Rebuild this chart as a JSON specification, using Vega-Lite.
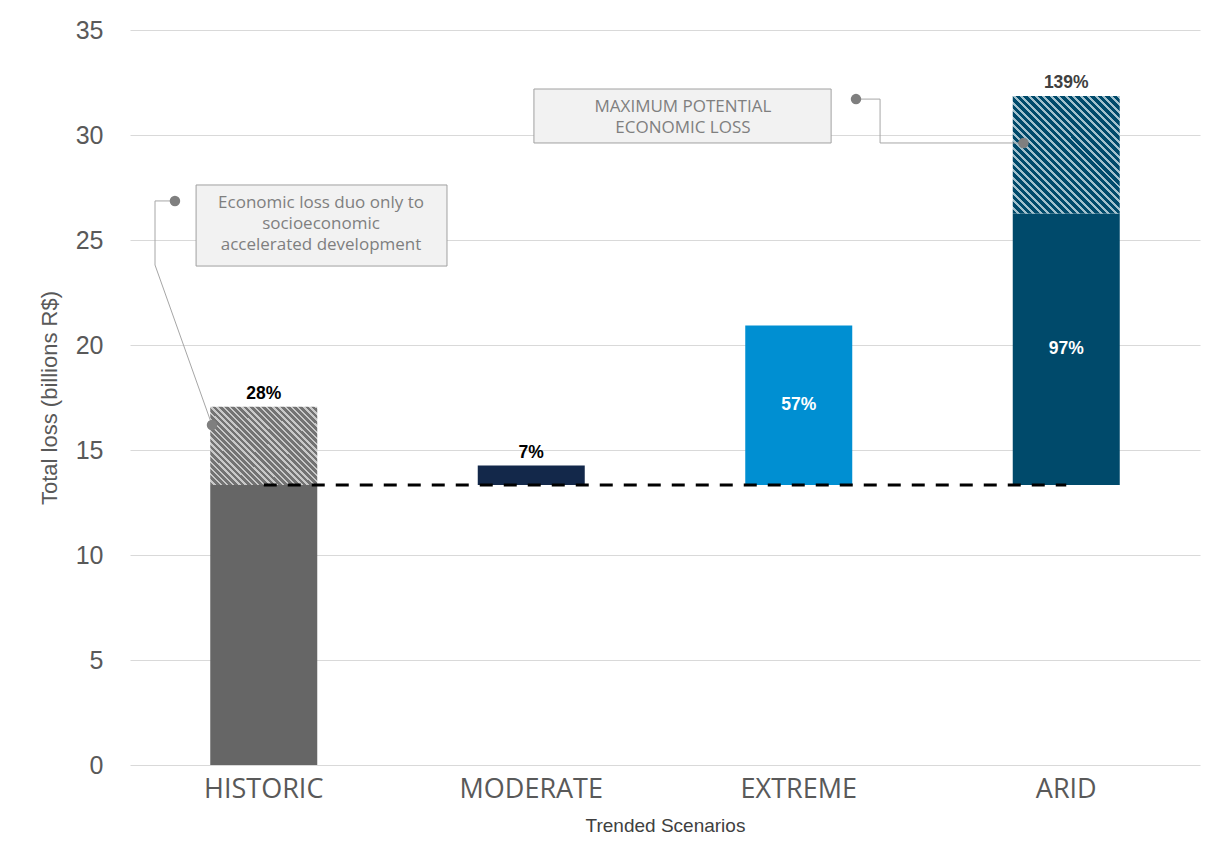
{
  "$schema": "https://vega.github.io/schema/vega-lite/v6.json",
  "autosize": {"type": "none"},
  "padding": {"left": 130, "top": 30, "right": 29, "bottom": 93},
  "width": 1070,
  "height": 735,
  "background": "#ffffff",
  "config": {"view": {"stroke": null}, "font": "Liberation Sans"},
  "datasets": {
    "loss": [
      {"scenario": "HISTORIC", "part": "base", "lo": 0, "hi": 13.33, "label": ""},
      {"scenario": "HISTORIC", "part": "hatch", "lo": 13.33, "hi": 17.06, "label": "28%"},
      {"scenario": "MODERATE", "part": "solid", "lo": 13.33, "hi": 14.26, "label": "7%"},
      {"scenario": "EXTREME", "part": "solid", "lo": 13.33, "hi": 20.93, "label": "57%"},
      {"scenario": "ARID", "part": "solid", "lo": 13.33, "hi": 26.26, "label": "97%"},
      {"scenario": "ARID", "part": "hatch", "lo": 26.26, "hi": 31.86, "label": "139%"}
    ],
    "notes": [
      {"x1": 0.247, "x2": 1.185, "y1": 23.76, "y2": 27.62, "xc": 0.714, "yc": 26.76, "note": "Economic loss duo only to\nsocioeconomic\naccelerated development"},
      {"x1": 1.51, "x2": 2.621, "y1": 29.62, "y2": 32.19, "xc": 2.067, "yc": 31.33, "note": "MAXIMUM POTENTIAL\nECONOMIC LOSS"}
    ],
    "leaders": [
      {"id": "a", "step": 0, "x": 0.168, "y": 26.86},
      {"id": "a", "step": 1, "x": 0.0935, "y": 26.86},
      {"id": "a", "step": 2, "x": 0.0935, "y": 23.81},
      {"id": "a", "step": 3, "x": 0.3065, "y": 16.19},
      {"id": "b", "step": 0, "x": 2.714, "y": 31.71},
      {"id": "b", "step": 1, "x": 2.804, "y": 31.71},
      {"id": "b", "step": 2, "x": 2.804, "y": 29.62},
      {"id": "b", "step": 3, "x": 3.34, "y": 29.62}
    ]
  },
  "layer": [
    {
      "data": {"name": "loss"},
      "encoding": {
        "x": {
          "field": "scenario",
          "type": "nominal",
          "sort": ["HISTORIC", "MODERATE", "EXTREME", "ARID"],
          "scale": {"domain": ["HISTORIC", "MODERATE", "EXTREME", "ARID"], "paddingInner": 0.6, "paddingOuter": 0.3},
          "title": "Trended Scenarios",
          "axis": {
            "domain": false,
            "ticks": false,
            "grid": false,
            "labelAngle": 0,
            "labelFont": "Open Sans",
            "labelFontSize": 27,
            "labelColor": "#595959",
            "labelPadding": 11,
            "titleFont": "Liberation Sans",
            "titleFontSize": 19,
            "titleFontWeight": "normal",
            "titleColor": "#404040",
            "titlePadding": 14
          }
        },
        "y": {
          "field": "lo",
          "type": "quantitative",
          "scale": {"domain": [0, 35], "nice": false, "zero": true},
          "title": "Total loss (billions R$)",
          "axis": {
            "values": [0, 5, 10, 15, 20, 25, 30, 35],
            "domain": false,
            "ticks": false,
            "grid": true,
            "gridColor": "#d9d9d9",
            "gridWidth": 1,
            "labelFont": "Liberation Sans",
            "labelFontSize": 25,
            "labelColor": "#595959",
            "labelPadding": 27,
            "titleFont": "Liberation Sans",
            "titleFontSize": 22,
            "titleFontWeight": "normal",
            "titleColor": "#595959",
            "titlePadding": 14
          }
        }
      },
      "layer": [
        {
          "transform": [{"filter": "datum.part !== 'hatch'"}],
          "mark": {"type": "bar"},
          "encoding": {
            "y2": {"field": "hi"},
            "color": {
              "field": "scenario",
              "type": "nominal",
              "scale": {"domain": ["HISTORIC", "MODERATE", "EXTREME", "ARID"], "range": ["#666666", "#13284a", "#008fd2", "#004a6b"]},
              "legend": null
            }
          }
        },
        {
          "transform": [{"filter": "datum.part === 'hatch' && datum.scenario === 'HISTORIC'"}],
          "mark": {
            "type": "bar",
            "fill": {
              "gradient": "linear",
              "x1": 0, "y1": 1, "x2": 1.125, "y2": 0.17,
              "stops": [
                {"offset": 0, "color": "#737373"}, {"offset": 0.02, "color": "#737373"}, {"offset": 0.02, "color": "#c9c9c9"}, {"offset": 0.0333, "color": "#c9c9c9"},
                {"offset": 0.0333, "color": "#737373"}, {"offset": 0.0533, "color": "#737373"}, {"offset": 0.0533, "color": "#c9c9c9"}, {"offset": 0.0667, "color": "#c9c9c9"},
                {"offset": 0.0667, "color": "#737373"}, {"offset": 0.0867, "color": "#737373"}, {"offset": 0.0867, "color": "#c9c9c9"}, {"offset": 0.1, "color": "#c9c9c9"},
                {"offset": 0.1, "color": "#737373"}, {"offset": 0.12, "color": "#737373"}, {"offset": 0.12, "color": "#c9c9c9"}, {"offset": 0.1333, "color": "#c9c9c9"},
                {"offset": 0.1333, "color": "#737373"}, {"offset": 0.1533, "color": "#737373"}, {"offset": 0.1533, "color": "#c9c9c9"}, {"offset": 0.1667, "color": "#c9c9c9"},
                {"offset": 0.1667, "color": "#737373"}, {"offset": 0.1867, "color": "#737373"}, {"offset": 0.1867, "color": "#c9c9c9"}, {"offset": 0.2, "color": "#c9c9c9"},
                {"offset": 0.2, "color": "#737373"}, {"offset": 0.22, "color": "#737373"}, {"offset": 0.22, "color": "#c9c9c9"}, {"offset": 0.2333, "color": "#c9c9c9"},
                {"offset": 0.2333, "color": "#737373"}, {"offset": 0.2533, "color": "#737373"}, {"offset": 0.2533, "color": "#c9c9c9"}, {"offset": 0.2667, "color": "#c9c9c9"},
                {"offset": 0.2667, "color": "#737373"}, {"offset": 0.2867, "color": "#737373"}, {"offset": 0.2867, "color": "#c9c9c9"}, {"offset": 0.3, "color": "#c9c9c9"},
                {"offset": 0.3, "color": "#737373"}, {"offset": 0.32, "color": "#737373"}, {"offset": 0.32, "color": "#c9c9c9"}, {"offset": 0.3333, "color": "#c9c9c9"},
                {"offset": 0.3333, "color": "#737373"}, {"offset": 0.3533, "color": "#737373"}, {"offset": 0.3533, "color": "#c9c9c9"}, {"offset": 0.3667, "color": "#c9c9c9"},
                {"offset": 0.3667, "color": "#737373"}, {"offset": 0.3867, "color": "#737373"}, {"offset": 0.3867, "color": "#c9c9c9"}, {"offset": 0.4, "color": "#c9c9c9"},
                {"offset": 0.4, "color": "#737373"}, {"offset": 0.42, "color": "#737373"}, {"offset": 0.42, "color": "#c9c9c9"}, {"offset": 0.4333, "color": "#c9c9c9"},
                {"offset": 0.4333, "color": "#737373"}, {"offset": 0.4533, "color": "#737373"}, {"offset": 0.4533, "color": "#c9c9c9"}, {"offset": 0.4667, "color": "#c9c9c9"},
                {"offset": 0.4667, "color": "#737373"}, {"offset": 0.4867, "color": "#737373"}, {"offset": 0.4867, "color": "#c9c9c9"}, {"offset": 0.5, "color": "#c9c9c9"},
                {"offset": 0.5, "color": "#737373"}, {"offset": 0.52, "color": "#737373"}, {"offset": 0.52, "color": "#c9c9c9"}, {"offset": 0.5333, "color": "#c9c9c9"},
                {"offset": 0.5333, "color": "#737373"}, {"offset": 0.5533, "color": "#737373"}, {"offset": 0.5533, "color": "#c9c9c9"}, {"offset": 0.5667, "color": "#c9c9c9"},
                {"offset": 0.5667, "color": "#737373"}, {"offset": 0.5867, "color": "#737373"}, {"offset": 0.5867, "color": "#c9c9c9"}, {"offset": 0.6, "color": "#c9c9c9"},
                {"offset": 0.6, "color": "#737373"}, {"offset": 0.62, "color": "#737373"}, {"offset": 0.62, "color": "#c9c9c9"}, {"offset": 0.6333, "color": "#c9c9c9"},
                {"offset": 0.6333, "color": "#737373"}, {"offset": 0.6533, "color": "#737373"}, {"offset": 0.6533, "color": "#c9c9c9"}, {"offset": 0.6667, "color": "#c9c9c9"},
                {"offset": 0.6667, "color": "#737373"}, {"offset": 0.6867, "color": "#737373"}, {"offset": 0.6867, "color": "#c9c9c9"}, {"offset": 0.7, "color": "#c9c9c9"},
                {"offset": 0.7, "color": "#737373"}, {"offset": 0.72, "color": "#737373"}, {"offset": 0.72, "color": "#c9c9c9"}, {"offset": 0.7333, "color": "#c9c9c9"},
                {"offset": 0.7333, "color": "#737373"}, {"offset": 0.7533, "color": "#737373"}, {"offset": 0.7533, "color": "#c9c9c9"}, {"offset": 0.7667, "color": "#c9c9c9"},
                {"offset": 0.7667, "color": "#737373"}, {"offset": 0.7867, "color": "#737373"}, {"offset": 0.7867, "color": "#c9c9c9"}, {"offset": 0.8, "color": "#c9c9c9"},
                {"offset": 0.8, "color": "#737373"}, {"offset": 0.82, "color": "#737373"}, {"offset": 0.82, "color": "#c9c9c9"}, {"offset": 0.8333, "color": "#c9c9c9"},
                {"offset": 0.8333, "color": "#737373"}, {"offset": 0.8533, "color": "#737373"}, {"offset": 0.8533, "color": "#c9c9c9"}, {"offset": 0.8667, "color": "#c9c9c9"},
                {"offset": 0.8667, "color": "#737373"}, {"offset": 0.8867, "color": "#737373"}, {"offset": 0.8867, "color": "#c9c9c9"}, {"offset": 0.9, "color": "#c9c9c9"},
                {"offset": 0.9, "color": "#737373"}, {"offset": 0.92, "color": "#737373"}, {"offset": 0.92, "color": "#c9c9c9"}, {"offset": 0.9333, "color": "#c9c9c9"},
                {"offset": 0.9333, "color": "#737373"}, {"offset": 0.9533, "color": "#737373"}, {"offset": 0.9533, "color": "#c9c9c9"}, {"offset": 0.9667, "color": "#c9c9c9"},
                {"offset": 0.9667, "color": "#737373"}, {"offset": 0.9867, "color": "#737373"}, {"offset": 0.9867, "color": "#c9c9c9"}, {"offset": 1, "color": "#c9c9c9"}
              ]
            }
          },
          "encoding": {"y2": {"field": "hi"}}
        },
        {
          "transform": [{"filter": "datum.part === 'hatch' && datum.scenario === 'ARID'"}],
          "mark": {
            "type": "bar",
            "fill": {
              "gradient": "linear",
              "x1": 0, "y1": 1, "x2": 0.951, "y2": -0.045,
              "stops": [
                {"offset": 0, "color": "#004a6b"}, {"offset": 0.02, "color": "#004a6b"}, {"offset": 0.02, "color": "#a3c1cd"}, {"offset": 0.0333, "color": "#a3c1cd"},
                {"offset": 0.0333, "color": "#004a6b"}, {"offset": 0.0533, "color": "#004a6b"}, {"offset": 0.0533, "color": "#a3c1cd"}, {"offset": 0.0667, "color": "#a3c1cd"},
                {"offset": 0.0667, "color": "#004a6b"}, {"offset": 0.0867, "color": "#004a6b"}, {"offset": 0.0867, "color": "#a3c1cd"}, {"offset": 0.1, "color": "#a3c1cd"},
                {"offset": 0.1, "color": "#004a6b"}, {"offset": 0.12, "color": "#004a6b"}, {"offset": 0.12, "color": "#a3c1cd"}, {"offset": 0.1333, "color": "#a3c1cd"},
                {"offset": 0.1333, "color": "#004a6b"}, {"offset": 0.1533, "color": "#004a6b"}, {"offset": 0.1533, "color": "#a3c1cd"}, {"offset": 0.1667, "color": "#a3c1cd"},
                {"offset": 0.1667, "color": "#004a6b"}, {"offset": 0.1867, "color": "#004a6b"}, {"offset": 0.1867, "color": "#a3c1cd"}, {"offset": 0.2, "color": "#a3c1cd"},
                {"offset": 0.2, "color": "#004a6b"}, {"offset": 0.22, "color": "#004a6b"}, {"offset": 0.22, "color": "#a3c1cd"}, {"offset": 0.2333, "color": "#a3c1cd"},
                {"offset": 0.2333, "color": "#004a6b"}, {"offset": 0.2533, "color": "#004a6b"}, {"offset": 0.2533, "color": "#a3c1cd"}, {"offset": 0.2667, "color": "#a3c1cd"},
                {"offset": 0.2667, "color": "#004a6b"}, {"offset": 0.2867, "color": "#004a6b"}, {"offset": 0.2867, "color": "#a3c1cd"}, {"offset": 0.3, "color": "#a3c1cd"},
                {"offset": 0.3, "color": "#004a6b"}, {"offset": 0.32, "color": "#004a6b"}, {"offset": 0.32, "color": "#a3c1cd"}, {"offset": 0.3333, "color": "#a3c1cd"},
                {"offset": 0.3333, "color": "#004a6b"}, {"offset": 0.3533, "color": "#004a6b"}, {"offset": 0.3533, "color": "#a3c1cd"}, {"offset": 0.3667, "color": "#a3c1cd"},
                {"offset": 0.3667, "color": "#004a6b"}, {"offset": 0.3867, "color": "#004a6b"}, {"offset": 0.3867, "color": "#a3c1cd"}, {"offset": 0.4, "color": "#a3c1cd"},
                {"offset": 0.4, "color": "#004a6b"}, {"offset": 0.42, "color": "#004a6b"}, {"offset": 0.42, "color": "#a3c1cd"}, {"offset": 0.4333, "color": "#a3c1cd"},
                {"offset": 0.4333, "color": "#004a6b"}, {"offset": 0.4533, "color": "#004a6b"}, {"offset": 0.4533, "color": "#a3c1cd"}, {"offset": 0.4667, "color": "#a3c1cd"},
                {"offset": 0.4667, "color": "#004a6b"}, {"offset": 0.4867, "color": "#004a6b"}, {"offset": 0.4867, "color": "#a3c1cd"}, {"offset": 0.5, "color": "#a3c1cd"},
                {"offset": 0.5, "color": "#004a6b"}, {"offset": 0.52, "color": "#004a6b"}, {"offset": 0.52, "color": "#a3c1cd"}, {"offset": 0.5333, "color": "#a3c1cd"},
                {"offset": 0.5333, "color": "#004a6b"}, {"offset": 0.5533, "color": "#004a6b"}, {"offset": 0.5533, "color": "#a3c1cd"}, {"offset": 0.5667, "color": "#a3c1cd"},
                {"offset": 0.5667, "color": "#004a6b"}, {"offset": 0.5867, "color": "#004a6b"}, {"offset": 0.5867, "color": "#a3c1cd"}, {"offset": 0.6, "color": "#a3c1cd"},
                {"offset": 0.6, "color": "#004a6b"}, {"offset": 0.62, "color": "#004a6b"}, {"offset": 0.62, "color": "#a3c1cd"}, {"offset": 0.6333, "color": "#a3c1cd"},
                {"offset": 0.6333, "color": "#004a6b"}, {"offset": 0.6533, "color": "#004a6b"}, {"offset": 0.6533, "color": "#a3c1cd"}, {"offset": 0.6667, "color": "#a3c1cd"},
                {"offset": 0.6667, "color": "#004a6b"}, {"offset": 0.6867, "color": "#004a6b"}, {"offset": 0.6867, "color": "#a3c1cd"}, {"offset": 0.7, "color": "#a3c1cd"},
                {"offset": 0.7, "color": "#004a6b"}, {"offset": 0.72, "color": "#004a6b"}, {"offset": 0.72, "color": "#a3c1cd"}, {"offset": 0.7333, "color": "#a3c1cd"},
                {"offset": 0.7333, "color": "#004a6b"}, {"offset": 0.7533, "color": "#004a6b"}, {"offset": 0.7533, "color": "#a3c1cd"}, {"offset": 0.7667, "color": "#a3c1cd"},
                {"offset": 0.7667, "color": "#004a6b"}, {"offset": 0.7867, "color": "#004a6b"}, {"offset": 0.7867, "color": "#a3c1cd"}, {"offset": 0.8, "color": "#a3c1cd"},
                {"offset": 0.8, "color": "#004a6b"}, {"offset": 0.82, "color": "#004a6b"}, {"offset": 0.82, "color": "#a3c1cd"}, {"offset": 0.8333, "color": "#a3c1cd"},
                {"offset": 0.8333, "color": "#004a6b"}, {"offset": 0.8533, "color": "#004a6b"}, {"offset": 0.8533, "color": "#a3c1cd"}, {"offset": 0.8667, "color": "#a3c1cd"},
                {"offset": 0.8667, "color": "#004a6b"}, {"offset": 0.8867, "color": "#004a6b"}, {"offset": 0.8867, "color": "#a3c1cd"}, {"offset": 0.9, "color": "#a3c1cd"},
                {"offset": 0.9, "color": "#004a6b"}, {"offset": 0.92, "color": "#004a6b"}, {"offset": 0.92, "color": "#a3c1cd"}, {"offset": 0.9333, "color": "#a3c1cd"},
                {"offset": 0.9333, "color": "#004a6b"}, {"offset": 0.9533, "color": "#004a6b"}, {"offset": 0.9533, "color": "#a3c1cd"}, {"offset": 0.9667, "color": "#a3c1cd"},
                {"offset": 0.9667, "color": "#004a6b"}, {"offset": 0.9867, "color": "#004a6b"}, {"offset": 0.9867, "color": "#a3c1cd"}, {"offset": 1, "color": "#a3c1cd"}
              ]
            }
          },
          "encoding": {"y2": {"field": "hi"}}
        },
        {
          "data": {"values": [{"from": "HISTORIC", "to": "ARID", "base": 13.33}]},
          "mark": {"type": "rule", "color": "#000000", "strokeWidth": 3, "strokeDash": [13, 11]},
          "encoding": {
            "x": {"field": "from", "type": "nominal"},
            "x2": {"field": "to"},
            "y": {"field": "base", "type": "quantitative"}
          }
        },
        {
          "transform": [{"filter": "datum.part === 'hatch' || datum.scenario === 'MODERATE'"}],
          "mark": {"type": "text", "baseline": "alphabetic", "dy": -8, "font": "Liberation Sans", "fontWeight": "bold", "fontSize": 17.5},
          "encoding": {
            "y": {"field": "hi", "type": "quantitative"},
            "text": {"field": "label"},
            "color": {"condition": {"test": "datum.scenario === 'ARID'", "value": "#404040"}, "value": "#000000"}
          }
        },
        {
          "transform": [
            {"filter": "datum.part === 'solid' && (datum.scenario === 'EXTREME' || datum.scenario === 'ARID')"},
            {"calculate": "(datum.lo + datum.hi) / 2", "as": "mid"}
          ],
          "mark": {"type": "text", "baseline": "middle", "font": "Liberation Sans", "fontWeight": "bold", "fontSize": 17.5, "color": "#ffffff"},
          "encoding": {
            "y": {"field": "mid", "type": "quantitative"},
            "text": {"field": "label"}
          }
        }
      ]
    },
    {
      "layer": [
        {
          "data": {"name": "notes"},
          "mark": {"type": "rect", "fill": "#f2f2f2", "stroke": "#a0a0a0", "strokeWidth": 1},
          "encoding": {
            "x": {"field": "x1", "type": "quantitative", "scale": {"domain": [0, 4], "nice": false, "zero": false}, "axis": null},
            "x2": {"field": "x2"},
            "y": {"field": "y1", "type": "quantitative"},
            "y2": {"field": "y2"}
          }
        },
        {
          "data": {"name": "notes"},
          "mark": {"type": "text", "align": "center", "baseline": "middle", "lineBreak": "\n", "lineHeight": 21, "font": "Open Sans", "fontSize": 17, "color": "#7f7f7f"},
          "encoding": {
            "x": {"field": "xc", "type": "quantitative", "axis": null},
            "y": {"field": "yc", "type": "quantitative"},
            "text": {"field": "note"}
          }
        },
        {
          "data": {"name": "leaders"},
          "mark": {"type": "line", "stroke": "#a6a6a6", "strokeWidth": 1},
          "encoding": {
            "x": {"field": "x", "type": "quantitative", "axis": null},
            "y": {"field": "y", "type": "quantitative"},
            "detail": {"field": "id"},
            "order": {"field": "step"}
          }
        },
        {
          "data": {"name": "leaders"},
          "transform": [{"filter": "datum.step === 0 || datum.step === 3"}],
          "mark": {"type": "circle", "color": "#7f7f7f", "opacity": 1, "size": 110},
          "encoding": {
            "x": {"field": "x", "type": "quantitative", "axis": null},
            "y": {"field": "y", "type": "quantitative"}
          }
        }
      ]
    }
  ],
  "resolve": {"scale": {"x": "independent"}}
}
